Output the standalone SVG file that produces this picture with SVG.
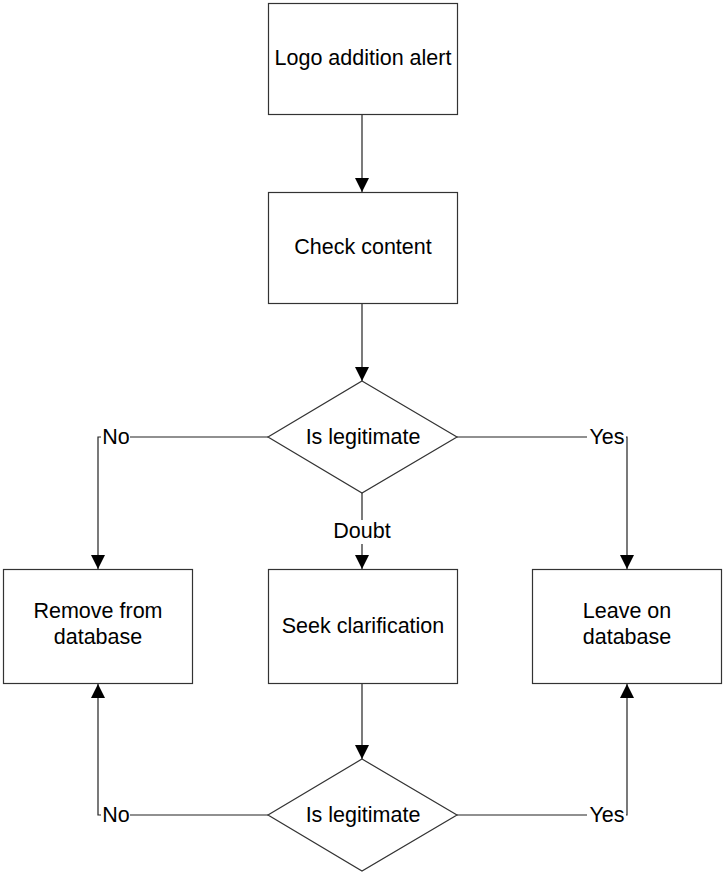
<svg xmlns="http://www.w3.org/2000/svg" width="723" height="872" viewBox="0 0 723 872">
  <style>
    .box { fill: #fff; stroke: #333; stroke-width: 1.2; }
    .line { fill: none; stroke: #222; stroke-width: 1.2; }
    .lbl { font-family: "Liberation Sans", Arial, sans-serif; font-size: 21.5px; fill: #000; text-anchor: middle; dominant-baseline: central; }
    .tag { fill: #fff; }
  </style>
  <defs>
    <marker id="arrow" viewBox="0 0 14 14" refX="14" refY="7" markerWidth="14" markerHeight="14" markerUnits="userSpaceOnUse" orient="auto">
      <path d="M0,0 L14,7 L0,14 Z" fill="#000"/>
    </marker>
  </defs>
  <rect width="723" height="872" fill="#fff"/>

  <!-- connectors -->
  <g id="connectors">
    <path class="line" d="M362,115 V192" marker-end="url(#arrow)"/>
    <path class="line" d="M362,303 V381" marker-end="url(#arrow)"/>
    <path class="line" d="M268,437 H98 V569" marker-end="url(#arrow)"/>
    <path class="line" d="M457,437 H627 V569" marker-end="url(#arrow)"/>
    <path class="line" d="M362,493 V569" marker-end="url(#arrow)"/>
    <path class="line" d="M362,684 V759" marker-end="url(#arrow)"/>
    <path class="line" d="M268,815 H98 V684" marker-end="url(#arrow)"/>
    <path class="line" d="M457,815 H627 V684" marker-end="url(#arrow)"/>
    <rect class="tag" x="101" y="426" width="29" height="22"/>
    <text class="lbl" x="116" y="437">No</text>
    <rect class="tag" x="587" y="426" width="39" height="22"/>
    <text class="lbl" x="607" y="437">Yes</text>
    <rect class="tag" x="331" y="520" width="62" height="24"/>
    <text class="lbl" x="362" y="531">Doubt</text>
    <rect class="tag" x="101" y="804" width="29" height="22"/>
    <text class="lbl" x="116" y="815">No</text>
    <rect class="tag" x="587" y="804" width="39" height="22"/>
    <text class="lbl" x="607" y="815">Yes</text>
  </g>

  <g id="logo-alert">
    <rect class="box" x="268.5" y="3.5" width="189" height="111"/>
    <text class="lbl" x="363" y="58">Logo addition alert</text>
  </g>
  <g id="check-content">
    <rect class="box" x="268.5" y="192.5" width="189" height="111"/>
    <text class="lbl" x="363" y="247">Check content</text>
  </g>
  <g id="is-legitimate-1">
    <polygon class="box" points="362,381 457,437 362,493 268,437"/>
    <text class="lbl" x="363" y="437">Is legitimate</text>
  </g>
  <g id="remove">
    <rect class="box" x="3.5" y="569.5" width="189" height="114"/>
    <text class="lbl" x="98" y="611">Remove from</text>
    <text class="lbl" x="98" y="637">database</text>
  </g>
  <g id="seek-clarification">
    <rect class="box" x="268.5" y="569.5" width="189" height="114"/>
    <text class="lbl" x="363" y="626">Seek clarification</text>
  </g>
  <g id="leave">
    <rect class="box" x="532.5" y="569.5" width="189" height="114"/>
    <text class="lbl" x="627" y="611">Leave on</text>
    <text class="lbl" x="627" y="637">database</text>
  </g>
  <g id="is-legitimate-2">
    <polygon class="box" points="362,759 457,815 362,871 268,815"/>
    <text class="lbl" x="363" y="815">Is legitimate</text>
  </g>
</svg>
